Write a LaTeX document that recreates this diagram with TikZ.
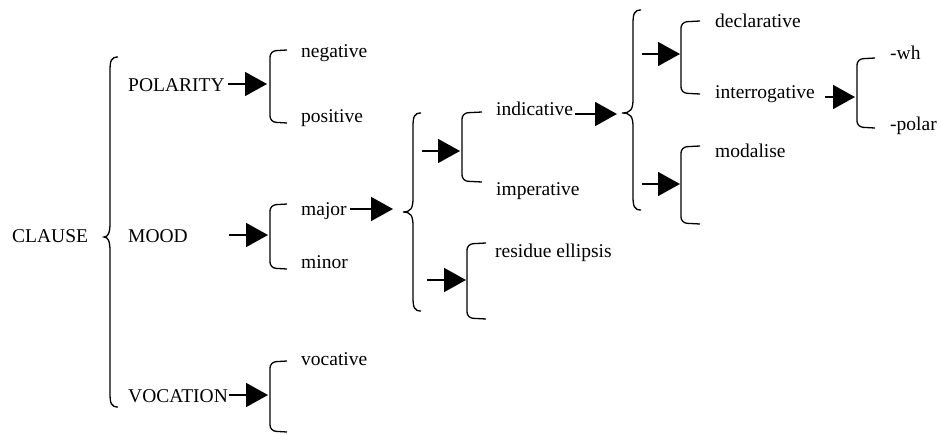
\documentclass[tikz,border=0pt]{standalone}
\usepackage{fontspec}
\setmainfont{Liberation Serif}
\usetikzlibrary{arrows.meta}

% curly brace opening to the right: vertical x, top, bottom, cusp x, cusp y
\newcommand{\sysbrace}[5]{%
  \draw[bracestyle] (#1+8,#2) .. controls (#1+1,#2) and (#1,#2+4) .. (#1,#2+14)
    -- (#1,#5-14) .. controls (#1,#5-4) and (#1-2,#5) .. (#4,#5)
    .. controls (#1-2,#5) and (#1,#5+4) .. (#1,#5+14)
    -- (#1,#3-14) .. controls (#1,#3-4) and (#1+1,#3) .. (#1+8,#3);}
% square system bracket: vertical x, top, bottom, hook end x
\newcommand{\sysbracket}[4]{%
  \draw[bracketstyle] (#4,#2-1) -- (#1,#2) -- (#1,#3) -- (#4,#3+1);}

\begin{document}
\begin{tikzpicture}[x=1pt,y=-1pt,
  lbl/.style={anchor=base west,inner sep=0pt,font=\fontsize{19.5}{23}\selectfont},
  arr/.style={line width=1.6pt,-{Triangle[length=22pt,width=24pt]}},
  bracestyle/.style={line width=1.3pt},
  bracketstyle/.style={line width=1.3pt,rounded corners=6pt}]
\useasboundingbox (0,0) rectangle (939,434);

% labels
\node[lbl] (clause) at (12,242) {CLAUSE};
\node[lbl] (pol)  at (128,91)  {POLARITY};
\node[lbl] (mood) at (128,242) {MOOD};
\node[lbl] (voc)  at (128,402) {VOCATION};
\node[lbl] (neg)  at (301,57)  {negative};
\node[lbl] (pos)  at (301,122) {positive};
\node[lbl] (maj)  at (301,215) {major};
\node[lbl] (min)  at (301,268) {minor};
\node[lbl] (vocv) at (301,365) {vocative};
\node[lbl] (ind)  at (496,115) {indicative};
\node[lbl] (imp)  at (496,195) {imperative};
\node[lbl] (res)  at (495,257) {residue ellipsis};
\node[lbl] (decl) at (715,27)  {declarative};
\node[lbl] (intr) at (715,98)  {interrogative};
\node[lbl] (modl) at (715,157) {modalise};
\node[lbl] (wh)   at (890,59)  {-wh};
\node[lbl] (plr)  at (890,130) {-polar};

% braces
\sysbrace{110}{57}{407}{104}{237}
\sysbrace{413}{113}{311}{403}{212}
\sysbrace{633}{10}{210}{622}{113}

% brackets
\sysbracket{270}{51}{122}{287}
\sysbracket{270}{205}{268}{287}
\sysbracket{270}{362}{431}{287}
\sysbracket{462}{113}{181}{482}
\sysbracket{467}{244}{318}{486}
\sysbracket{681}{22}{93}{700}
\sysbracket{681}{147}{223}{700}
\sysbracket{857}{59}{127}{875}

% arrow ends
\coordinate (polS) at (228,84);  \coordinate (polE) at (267,84);
\coordinate (moodS) at (229,235); \coordinate (moodE) at (268,235);
\coordinate (vocS) at (229,395);  \coordinate (vocE) at (268,395);
\coordinate (majS) at (350,209);  \coordinate (majE) at (393,209);
\coordinate (b2a) at (422,151);   \coordinate (indB) at (460,151);
\coordinate (b2b) at (427,280);   \coordinate (resB) at (466,280);
\coordinate (indS) at (575,114);  \coordinate (indE) at (617,114);
\coordinate (b3a) at (642,54);    \coordinate (declB) at (680,54);
\coordinate (b3b) at (642,184);   \coordinate (modB) at (680,184);
\coordinate (intS) at (825,97);   \coordinate (intE) at (855,97);

\draw[arr] (polS) -- (polE);
\draw[arr] (moodS) -- (moodE);
\draw[arr] (vocS) -- (vocE);
\draw[arr] (majS) -- (majE);
\draw[arr] (b2a) -- (indB);
\draw[arr] (b2b) -- (resB);
\draw[arr] (indS) -- (indE);
\draw[arr] (b3a) -- (declB);
\draw[arr] (b3b) -- (modB);
\draw[arr] (intS) -- (intE);
\end{tikzpicture}
\end{document}
